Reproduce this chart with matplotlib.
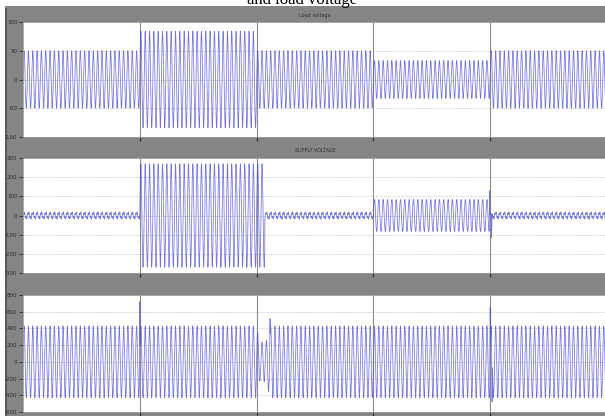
import numpy as np
import matplotlib
matplotlib.use("Agg")
import matplotlib.pyplot as plt
from matplotlib.patches import Rectangle

# ---- signal description -------------------------------------------------
segment_edges = [0.0, 0.1, 0.2, 0.3, 0.4, 0.5]      # s, event boundaries
cycles_per_div = 27                                  # waveform cycles per 0.1 s

# load voltage (top panel), peak per segment
load_amp = [50, 84, 50, 33, 50]

# supply voltage (middle panel), peak and ripple per segment
supply_edges = [0.0, 0.1, 0.207, 0.3, 0.4, 0.5]
supply_amp = [14, 270, 14, 86, 14]
supply_ripple = [8, 0, 8, 5, 8]
supply_kick_t = [0.3996, 0.4012]
supply_kick_v = [130, -115]

# compensated load voltage (bottom panel)
output_amp = [430, 430, 430, 430, 430]
output_dip_t = [0.2, 0.2025, 0.208, 0.2115]
output_dip_amp = [430, 230, 240, 430]
output_kick_t = [0.1, 0.2115, 0.4, 0.4016]
output_kick_v = [720, 518, 650, -480]

# axis ticks
top_ticks = [-100, -50, 0, 50, 100]
mid_ticks = [-300, -200, -100, 0, 100, 200, 300]
bot_ticks = [-600, -400, -200, 0, 200, 400, 600, 800]
time_ticks = [0.1, 0.2, 0.3, 0.4]

panel_titles = ["Load voltage", "SUPPLY VOLTAGE", ""]

# ---- build waveforms -------------------------------------------------------
t = np.linspace(0.0, 0.5, 40001)
f = cycles_per_div / 0.1
phase = 2 * np.pi * f * t


def seg_index(edges, tt):
    return np.clip(np.searchsorted(edges, tt, side="right") - 1, 0, len(edges) - 2)


def add_kicks(y, times, values, width=0.0004):
    y = y.copy()
    for t0, v in zip(times, values):
        tri = abs(v) * np.clip(1 - np.abs(t - t0) / width, 0, 1)
        win = np.abs(t - t0) < width
        if v > 0:
            m = win & (tri > y)
            y[m] = tri[m]
        else:
            m = win & (-tri < y)
            y[m] = -tri[m]
    return y


s_load = seg_index(segment_edges, t)
load = np.asarray(load_amp)[s_load] * np.sin(phase)

s_sup = seg_index(supply_edges, t)
supply = (np.asarray(supply_amp)[s_sup] * np.sin(phase)
          + np.asarray(supply_ripple)[s_sup] * np.sin(3 * phase + 0.8))
supply = add_kicks(supply, supply_kick_t, supply_kick_v)

out_env = np.asarray(output_amp, dtype=float)[s_load]
dip = (t >= output_dip_t[0]) & (t <= output_dip_t[-1])
out_env[dip] = np.interp(t[dip], output_dip_t, output_dip_amp)
output = out_env * np.sin(phase)
output = add_kicks(output, output_kick_t, output_kick_v)

# ---- figure ----------------------------------------------------------------
W, H = 605, 416
fig = plt.figure(figsize=(W / 100, H / 100), dpi=100, facecolor="white")

# scope window frame
fig.patches.append(Rectangle((5 / W, 0), 1, 1 - 6 / H, transform=fig.transFigure,
                             facecolor="#858585", edgecolor="none", zorder=-10))
fig.patches.append(Rectangle((5 / W, 0), 1.5 / W, 1 - 8 / H, transform=fig.transFigure,
                             facecolor="#5a5a5a", edgecolor="none", zorder=-9))

fig.text(0.5, 1 - 4 / H, "and load voltage", ha="center", va="baseline",
         family="Liberation Serif", fontsize=12, color="black")


def px_box(left, top, right, bottom):
    return [left / W, 1 - bottom / H, (right - left) / W, (bottom - top) / H]


boxes = [px_box(23, 22, 607, 137), px_box(23, 158, 607, 273), px_box(23, 295, 607, 412)]
signals = [load, supply, output]
ylims = [(-100, 100), (-300, 300), (-600, 800)]
yticks = [top_ticks, mid_ticks, bot_ticks]
title_y = [15, 151, 288]

for box, y, lim, ticks, title, ty in zip(boxes, signals, ylims, yticks, panel_titles, title_y):
    ax = fig.add_axes(box)
    ax.set_facecolor("white")
    ax.plot(t, y, color="#4646d8", lw=0.55, alpha=0.75)
    ax.set_xlim(0, 0.5)
    ax.set_ylim(*lim)
    ax.set_xticks(time_ticks)
    ax.set_xticklabels([])
    ax.set_yticks(ticks)
    ax.set_yticklabels([str(v) for v in ticks])
    ax.tick_params(axis="y", direction="out", length=3, width=0.6, pad=1,
                   labelsize=4, colors="#2a2a2a")
    ax.tick_params(axis="x", direction="out", length=3, width=0.8, colors="#2a2a2a")
    ax.xaxis.grid(True, color="#8c8c8c", lw=0.8, ls="-")
    ax.yaxis.grid(True, color="#c4c4c4", lw=0.6, ls=(0, (1.5, 1.5)))
    ax.set_axisbelow(True)
    for sp in ax.spines.values():
        sp.set_color("#9a9a9a")
        sp.set_linewidth(0.6)
    if title:
        fig.text((23 + 607) / 2 / W, 1 - ty / H, title, ha="center", va="center",
                 fontsize=3.5, color="#303030")

fig.savefig("out.png", dpi=100, facecolor=fig.get_facecolor())
